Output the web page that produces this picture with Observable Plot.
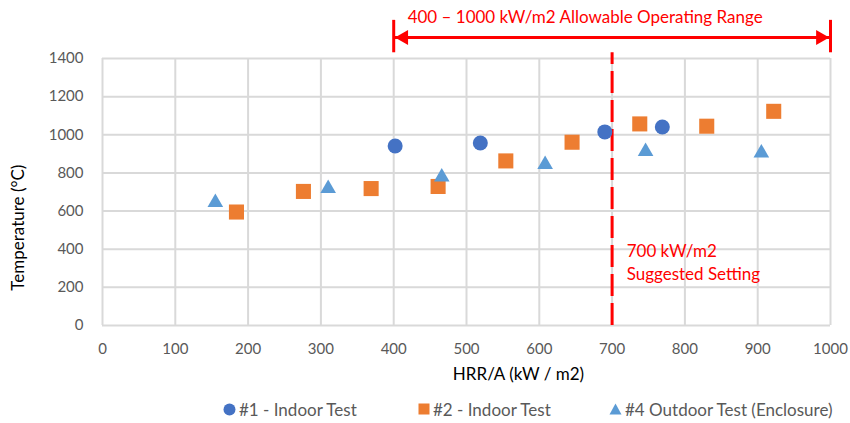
<!DOCTYPE html>
<html><head><meta charset="utf-8">
<script src="https://cdn.jsdelivr.net/npm/d3@7"></script>
<script src="https://cdn.jsdelivr.net/npm/@observablehq/plot@0.6"></script>
<style>
body{margin:0;background:#fff;font-family:Lato,sans-serif}
#legend{position:relative;width:850px;height:28px;color:#595959;font-size:17px;font-family:Lato,sans-serif}
.item{position:absolute;top:0;height:28px;display:flex;align-items:center;white-space:nowrap}
.item svg{margin-right:3px}
</style></head>
<body><div id="chart"></div><div id="legend"></div>
<script>
// ---- data ----
const xTicks = [0,100,200,300,400,500,600,700,800,900,1000];
const yTicks = [0,200,400,600,800,1000,1200,1400];
const s1Name = "#1 - Indoor Test";
const s1X = [402, 519, 690, 769];
const s1Y = [941, 957, 1015, 1041];
const s2Name = "#2 - Indoor Test";
const s2X = [184, 276, 369, 461, 554, 645, 738, 830, 922];
const s2Y = [595, 703, 718, 729, 863, 961, 1057, 1045, 1123];
const s4Name = "#4 Outdoor Test (Enclosure)";
const s4X = [155, 310, 466, 608, 746, 905];
const s4Y = [655, 729, 789, 855, 923, 915];
const rangeX = [400, 1000];
const rangeLabel = "400 \u2013 1000 kW/m2 Allowable Operating Range";
const suggestX = 700;
const suggestLabel = "700 kW/m2\nSuggested Setting";
const xLabel = "HRR/A (kW / m2)";
const yLabel = "Temperature (\u00B0C)";

// ---- annotation placement (data units) ----
const arrowY = 1510, tickY1 = 1430, tickY2 = 1600, rangeLabelY = 1615;
const suggestLabelX = 720, suggestLabelY = 338, yLabelY = 513;

const pts = (xs, ys) => xs.map((x, i) => ({x, y: ys[i]}));
const red = "#FF0000";
const fmt = d3.format("d");

const chart = Plot.plot({
  width: 850, height: 395,
  marginLeft: 102, marginRight: 20, marginTop: 58, marginBottom: 70,
  style: {fontFamily: "Lato, sans-serif", fontSize: "15px", color: "#595959", background: "#fff"},
  x: {domain: [0, 1000]},
  y: {domain: [0, 1400]},
  marks: [
    Plot.gridX(xTicks, {stroke: "#d9d9d9", strokeOpacity: 1, strokeWidth: 2}),
    Plot.gridY(yTicks, {stroke: "#d9d9d9", strokeOpacity: 1, strokeWidth: 2}),
    Plot.axisX({ticks: xTicks, tickFormat: fmt, tickSize: 0, tickPadding: 18, label: null, fill: "#595959"}),
    Plot.axisY({ticks: yTicks, tickFormat: fmt, tickSize: 0, tickPadding: 19, label: null, fill: "#595959"}),
    Plot.text([xLabel], {text: d => d, frameAnchor: "bottom", dx: 52, dy: 54, fill: "#000", fontSize: 17}),
    Plot.text([yLabel], {text: d => d, frameAnchor: "left", y: yLabelY, rotate: -90, dx: -84, textAnchor: "middle", lineAnchor: "middle", fill: "#000", fontSize: 17}),
    // suggested setting dashed line
    Plot.ruleX([suggestX], {y1: 0, y2: tickY1, stroke: red, strokeWidth: 3, strokeDasharray: "22,7"}),
    Plot.text([suggestLabel], {text: d => d, x: suggestLabelX, y: suggestLabelY, textAnchor: "start", lineAnchor: "middle", lineHeight: 1.35, fill: red, fontSize: 17}),
    // range arrow
    Plot.ruleX(rangeX, {y1: tickY1, y2: tickY2, stroke: red, strokeWidth: 3}),
    Plot.link([rangeX], {x1: d => d[0], x2: d => d[1], y1: arrowY, y2: arrowY, stroke: red, strokeWidth: 3}),
    Plot.dot([rangeX[0]], {x: d => d, y: arrowY, symbol: "triangle", r: 5.6, rotate: -90, dx: 10, fill: red, stroke: "none"}),
    Plot.dot([rangeX[1]], {x: d => d, y: arrowY, symbol: "triangle", r: 5.6, rotate: 90, dx: -10, fill: red, stroke: "none"}),
    Plot.text([rangeLabel], {text: d => d, x: (rangeX[0] + rangeX[1]) / 2 - 37, y: rangeLabelY, fill: red, fontSize: 17}),
    // data
    Plot.dot(pts(s1X, s1Y), {x: "x", y: "y", r: 7.5, symbol: "circle", fill: "#4472C4", stroke: "none"}),
    Plot.dot(pts(s2X, s2Y), {x: "x", y: "y", r: 8.5, symbol: "square", fill: "#ED7D31", stroke: "none"}),
    Plot.dot(pts(s4X, s4Y), {x: "x", y: "y", r: 5.8, symbol: "triangle", dy: 2, fill: "#5B9BD5", stroke: "none"})
  ]
});
document.getElementById("chart").appendChild(chart);

// ---- legend ----
const legend = document.getElementById("legend");
const items = [
  {name: s1Name, left: 223, svg: '<svg width="13" height="13"><circle cx="6.5" cy="6.5" r="6" fill="#4472C4"/></svg>'},
  {name: s2Name, left: 418, svg: '<svg width="12" height="12"><rect x="0.5" y="0.5" width="11" height="11" fill="#ED7D31"/></svg>'},
  {name: s4Name, left: 609, svg: '<svg width="13" height="12"><path d="M6.5,0.5 L12.5,11.5 L0.5,11.5 Z" fill="#5B9BD5"/></svg>'}
];
for (const it of items) {
  const d = document.createElement("div");
  d.className = "item";
  d.style.left = it.left + "px";
  d.innerHTML = it.svg + "<span>" + it.name + "</span>";
  legend.appendChild(d);
}
</script>
</body></html>
